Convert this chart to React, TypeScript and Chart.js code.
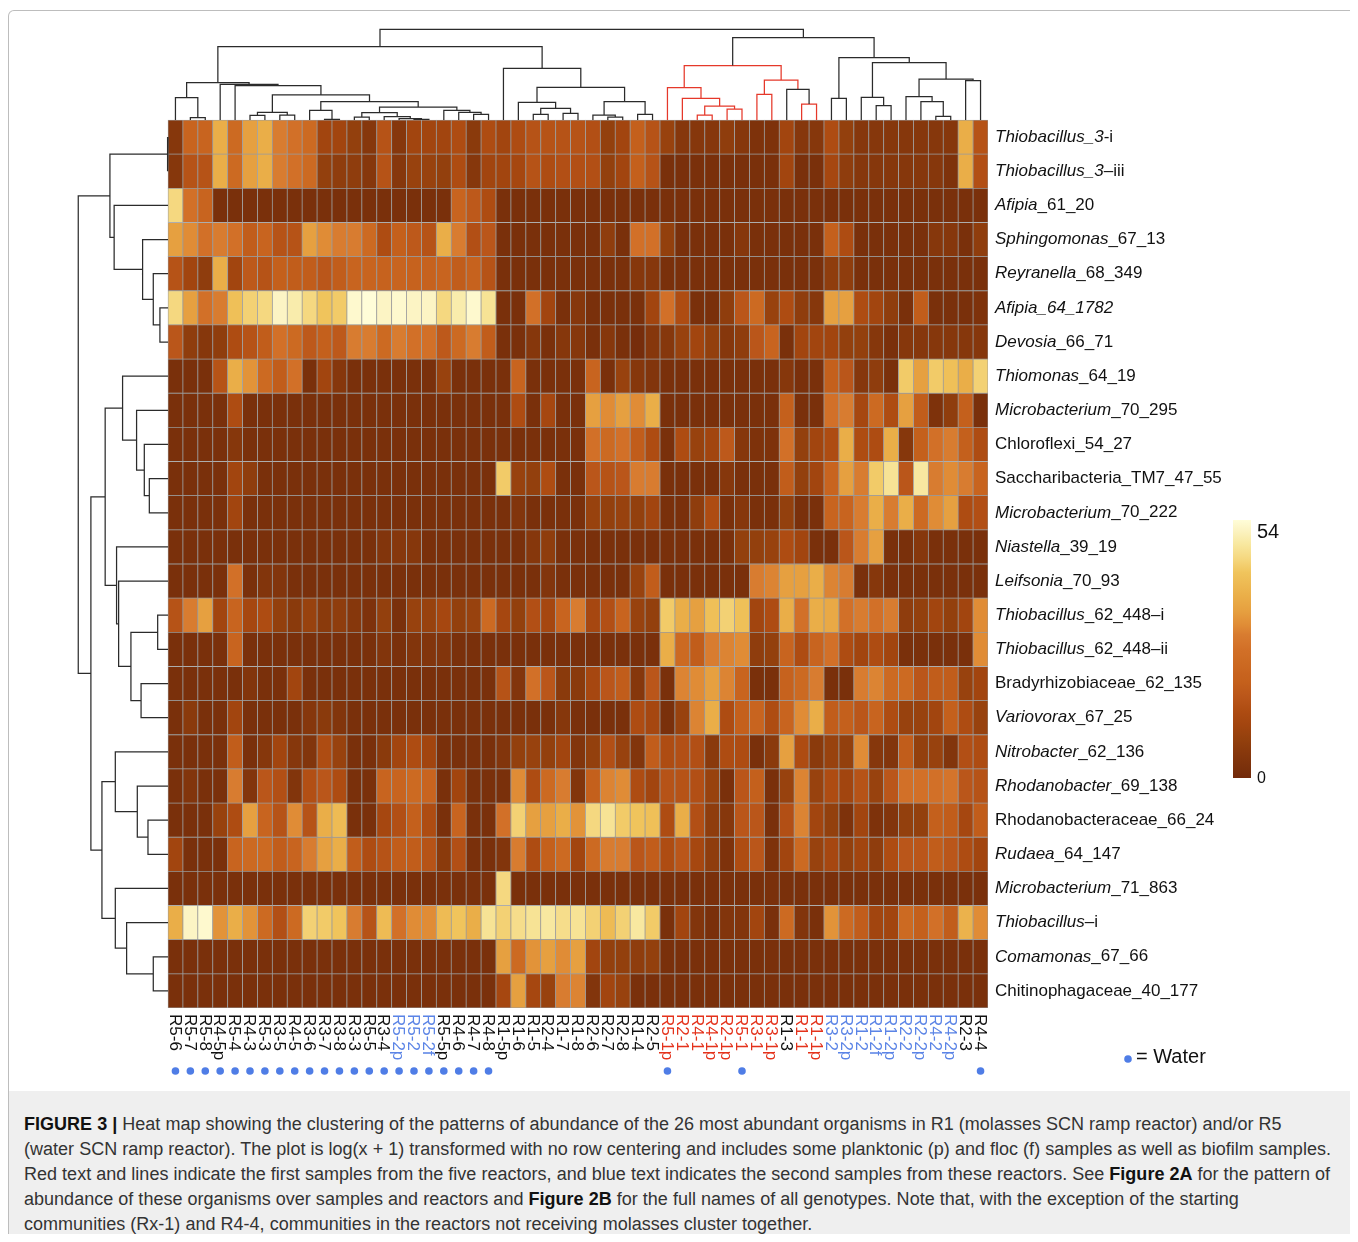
import { useEffect, useRef } from 'react'
import { Chart, registerables } from 'chart.js'

Chart.register(...registerables)

const FONT = '"Liberation Sans", Arial, Helvetica, sans-serif'

// sample order along the columns (as clustered in the figure)
const sampleLabels = [
  'R5-6', 'R5-7', 'R5-8', 'R4-5p', 'R5-4', 'R4-3', 'R5-3', 'R3-5', 'R4-5', 'R3-6',
  'R3-7', 'R3-8', 'R3-3', 'R5-5', 'R3-4', 'R5-2p', 'R5-2', 'R5-2f', 'R5-5p', 'R4-6',
  'R4-7', 'R4-8', 'R1-5p', 'R1-6', 'R1-5', 'R2-4', 'R1-7', 'R1-8', 'R2-6', 'R2-7',
  'R2-8', 'R1-4', 'R2-5', 'R5-1p', 'R2-1', 'R4-1', 'R4-1p', 'R2-1p', 'R5-1', 'R3-1',
  'R3-1p', 'R1-3', 'R1-1', 'R1-1p', 'R3-2', 'R3-2p', 'R1-2', 'R1-2f', 'R1-2p', 'R2-2',
  'R2-2p', 'R4-2', 'R4-2p', 'R2-3', 'R4-4',
]

// first samples from the reactors (red) and second samples (blue)
const firstSamples = ['R5-1p', 'R2-1', 'R4-1', 'R4-1p', 'R2-1p', 'R5-1', 'R3-1', 'R3-1p', 'R1-1', 'R1-1p']
const secondSamples = ['R5-2p', 'R5-2', 'R5-2f', 'R3-2', 'R3-2p', 'R1-2', 'R1-2f', 'R1-2p', 'R2-2', 'R2-2p', 'R4-2', 'R4-2p']

const waterSamples = [
  'R5-6', 'R5-7', 'R5-8', 'R4-5p', 'R5-4', 'R4-3', 'R5-3', 'R3-5', 'R4-5', 'R3-6', 'R3-7',
  'R3-8', 'R3-3', 'R5-5', 'R3-4', 'R5-2p', 'R5-2', 'R5-2f', 'R5-5p', 'R4-6', 'R4-7', 'R4-8',
  'R5-1p', 'R5-1', 'R4-4',
]

// row labels: italic genus part + plain suffix
const taxonGenus = [
  'Thiobacillus_3', 'Thiobacillus_3', 'Afipia', 'Sphingomonas', 'Reyranella', 'Afipia_64_1782',
  'Devosia', 'Thiomonas', 'Microbacterium', '', '', 'Microbacterium', 'Niastella', 'Leifsonia',
  'Thiobacillus', 'Thiobacillus', '', 'Variovorax', 'Nitrobacter', 'Rhodanobacter', '', 'Rudaea',
  'Microbacterium', 'Thiobacillus', 'Comamonas', '',
]
const taxonSuffix = [
  '-i', '–iii', '_61_20', '_67_13', '_68_349', '', '_66_71', '_64_19', '_70_295',
  'Chloroflexi_54_27', 'Saccharibacteria_TM7_47_55', '_70_222', '_39_19', '_70_93',
  '_62_448–i', '_62_448–ii', 'Bradyrhizobiaceae_62_135', '_67_25', '_62_136', '_69_138',
  'Rhodanobacteraceae_66_24', '_64_147', '_71_863', '–i', '_67_66', 'Chitinophagaceae_40_177',
]

// log(x + 1) abundance, one row per organism, one value per sample column
const abundance: number[][] = [
  [5, 22, 22, 38, 24, 35, 38, 30, 27, 24, 11, 11, 8, 5, 16, 5, 11, 11, 11, 14, 6, 14, 11, 14, 16, 16, 16, 16,
    15, 8, 11, 20, 16, 9, 5, 5, 5, 7, 5, 3, 3, 11, 5, 5, 14, 8, 5, 5, 5, 5, 5, 5, 5, 38, 16],
  [5, 16, 16, 38, 24, 35, 38, 30, 27, 24, 8, 7, 7, 5, 16, 5, 9, 9, 8, 14, 5, 11, 11, 12, 16, 14, 15, 15,
    15, 8, 11, 20, 16, 2, 2, 2, 2, 2, 2, 2, 2, 11, 2, 2, 12, 7, 5, 5, 5, 5, 5, 5, 3, 38, 15],
  [46, 27, 22, 2, 2, 2, 2, 2, 2, 2, 2, 2, 2, 2, 2, 2, 2, 2, 2, 22, 18, 14, 2, 2, 2, 2, 2, 2,
    2, 2, 2, 2, 2, 2, 2, 2, 2, 2, 2, 2, 2, 2, 2, 2, 2, 2, 2, 2, 2, 2, 2, 2, 2, 2, 2],
  [35, 32, 27, 30, 27, 19, 22, 16, 16, 35, 32, 30, 30, 24, 14, 20, 18, 16, 38, 30, 15, 17, 2, 2, 2, 2, 2, 2,
    2, 7, 2, 27, 27, 8, 2, 2, 2, 2, 5, 2, 2, 2, 2, 2, 20, 14, 2, 2, 2, 2, 2, 5, 5, 2, 7],
  [16, 11, 7, 38, 11, 18, 16, 20, 19, 19, 17, 19, 22, 22, 21, 22, 21, 21, 22, 19, 21, 16, 2, 2, 2, 2, 2, 2,
    2, 2, 2, 5, 5, 2, 2, 2, 2, 2, 2, 2, 2, 2, 2, 2, 7, 7, 2, 2, 2, 2, 2, 2, 2, 2, 2],
  [46, 35, 27, 30, 42, 45, 46, 52, 50, 46, 43, 44, 53, 54, 52, 53, 52, 52, 46, 50, 53, 48, 2, 2, 27, 11, 2, 5,
    2, 2, 2, 2, 11, 27, 14, 2, 2, 7, 17, 24, 9, 14, 7, 5, 35, 35, 14, 11, 7, 2, 19, 2, 2, 2, 3],
  [17, 7, 5, 7, 14, 16, 19, 27, 24, 18, 20, 18, 30, 30, 24, 30, 27, 27, 18, 24, 30, 19, 2, 2, 5, 2, 5, 5,
    2, 5, 2, 1, 5, 5, 9, 11, 8, 5, 7, 17, 22, 2, 11, 11, 11, 8, 8, 5, 2, 5, 5, 5, 5, 5, 5],
  [2, 2, 2, 16, 38, 33, 24, 19, 27, 2, 11, 5, 2, 2, 2, 2, 2, 2, 9, 2, 2, 2, 2, 22, 2, 2, 2, 2,
    22, 2, 9, 5, 4, 2, 2, 2, 2, 2, 2, 2, 2, 5, 2, 2, 20, 17, 5, 7, 2, 44, 35, 44, 42, 38, 45],
  [2, 2, 2, 2, 14, 2, 2, 2, 2, 2, 2, 2, 2, 2, 2, 2, 2, 2, 2, 2, 2, 2, 2, 14, 2, 12, 2, 2,
    35, 32, 35, 32, 38, 2, 2, 2, 2, 2, 2, 2, 2, 20, 2, 2, 27, 30, 12, 24, 14, 35, 19, 3, 7, 20, 2],
  [2, 2, 2, 2, 5, 2, 2, 2, 2, 2, 2, 2, 2, 2, 2, 2, 2, 2, 2, 2, 2, 2, 2, 2, 2, 2, 2, 2,
    27, 24, 27, 19, 14, 2, 14, 9, 11, 18, 5, 3, 3, 27, 8, 11, 14, 38, 14, 14, 38, 5, 20, 27, 30, 20, 14],
  [2, 2, 2, 2, 11, 7, 2, 2, 2, 2, 2, 2, 2, 2, 2, 2, 2, 2, 2, 2, 2, 2, 44, 9, 8, 14, 2, 2,
    17, 16, 17, 30, 30, 2, 2, 2, 2, 5, 2, 2, 2, 19, 8, 11, 22, 35, 30, 44, 48, 17, 49, 30, 32, 30, 22],
  [2, 2, 2, 2, 11, 2, 2, 2, 2, 2, 2, 2, 2, 2, 2, 2, 2, 2, 2, 2, 2, 2, 2, 4, 2, 2, 2, 2,
    9, 8, 9, 8, 11, 2, 2, 7, 14, 2, 5, 2, 2, 8, 2, 2, 22, 22, 30, 38, 30, 38, 24, 32, 35, 14, 15],
  [2, 2, 2, 2, 2, 2, 2, 2, 2, 2, 2, 2, 2, 2, 4, 5, 5, 2, 2, 2, 2, 2, 2, 2, 5, 7, 2, 2,
    2, 2, 2, 2, 2, 2, 2, 2, 2, 2, 8, 8, 9, 14, 11, 2, 2, 17, 30, 35, 2, 2, 5, 2, 2, 2, 2],
  [2, 2, 2, 2, 27, 2, 4, 4, 2, 2, 2, 2, 2, 2, 2, 2, 2, 2, 2, 2, 2, 2, 2, 2, 2, 4, 2, 2,
    2, 2, 2, 9, 19, 2, 2, 2, 2, 2, 2, 30, 31, 35, 35, 38, 31, 30, 2, 5, 2, 2, 2, 2, 2, 2, 2],
  [16, 30, 35, 11, 22, 12, 14, 8, 6, 9, 6, 7, 5, 3, 8, 2, 9, 9, 12, 8, 9, 24, 12, 8, 15, 12, 22, 30,
    12, 15, 22, 9, 8, 44, 38, 35, 42, 45, 42, 11, 14, 38, 27, 38, 37, 27, 30, 27, 30, 7, 8, 11, 8, 11, 32],
  [2, 2, 2, 2, 22, 2, 2, 2, 2, 2, 2, 2, 2, 2, 4, 2, 4, 4, 4, 2, 2, 2, 2, 2, 2, 2, 2, 2,
    2, 2, 2, 2, 2, 38, 24, 19, 30, 31, 32, 7, 8, 22, 14, 22, 27, 14, 11, 14, 11, 2, 2, 2, 2, 2, 32],
  [2, 2, 2, 2, 2, 4, 2, 2, 11, 2, 2, 2, 2, 2, 2, 2, 2, 2, 2, 2, 2, 2, 16, 4, 27, 17, 6, 6,
    12, 17, 19, 5, 17, 2, 31, 32, 35, 31, 22, 2, 2, 21, 24, 30, 2, 2, 30, 31, 24, 24, 17, 19, 19, 9, 11],
  [2, 6, 2, 2, 11, 2, 2, 2, 2, 5, 6, 4, 2, 2, 2, 2, 2, 2, 2, 2, 2, 2, 2, 2, 2, 2, 5, 2,
    2, 2, 2, 14, 12, 2, 9, 31, 38, 14, 20, 22, 14, 22, 32, 38, 19, 20, 17, 22, 14, 9, 9, 11, 20, 14, 9],
  [2, 2, 2, 2, 19, 2, 5, 11, 5, 4, 14, 9, 2, 2, 6, 11, 14, 11, 2, 2, 2, 2, 4, 8, 9, 8, 11, 4,
    8, 15, 9, 4, 19, 14, 15, 15, 6, 14, 14, 2, 6, 35, 14, 6, 9, 8, 32, 5, 4, 19, 8, 9, 4, 15, 14],
  [2, 4, 2, 2, 30, 4, 17, 15, 4, 15, 17, 14, 2, 2, 22, 22, 24, 22, 2, 11, 2, 2, 2, 32, 14, 24, 30, 4,
    20, 31, 32, 14, 11, 16, 16, 15, 9, 2, 17, 20, 2, 9, 31, 9, 14, 11, 16, 9, 17, 27, 27, 27, 28, 17, 16],
  [2, 2, 2, 9, 14, 35, 22, 16, 32, 16, 38, 41, 2, 2, 12, 15, 20, 14, 2, 22, 2, 2, 27, 45, 35, 35, 38, 33,
    46, 48, 44, 43, 42, 14, 38, 15, 7, 5, 17, 17, 2, 15, 31, 11, 8, 3, 11, 3, 4, 8, 8, 20, 19, 12, 19],
  [11, 2, 2, 2, 22, 24, 24, 19, 22, 30, 35, 38, 19, 14, 16, 19, 19, 16, 6, 15, 2, 2, 4, 30, 14, 20, 24, 11,
    24, 30, 30, 17, 19, 14, 17, 12, 7, 3, 14, 17, 3, 11, 24, 9, 12, 8, 11, 7, 14, 17, 17, 19, 17, 14, 11],
  [2, 2, 2, 2, 2, 2, 2, 2, 2, 2, 2, 2, 2, 2, 2, 2, 2, 2, 2, 2, 2, 2, 46, 2, 2, 2, 2, 2,
    2, 2, 2, 2, 2, 2, 2, 2, 2, 2, 2, 2, 2, 2, 2, 2, 2, 2, 2, 2, 2, 2, 2, 2, 2, 2, 2],
  [38, 52, 53, 33, 38, 33, 24, 15, 24, 45, 44, 43, 30, 16, 41, 27, 32, 32, 41, 43, 38, 48, 45, 47, 48, 49, 47, 48,
    45, 41, 45, 49, 44, 2, 11, 4, 2, 4, 4, 11, 2, 24, 4, 2, 33, 24, 19, 11, 11, 24, 20, 27, 19, 39, 32],
  [2, 2, 2, 2, 2, 2, 2, 2, 2, 2, 2, 2, 2, 2, 2, 2, 2, 2, 2, 2, 2, 2, 35, 24, 33, 35, 32, 35,
    11, 8, 8, 7, 8, 2, 2, 2, 2, 2, 2, 2, 2, 2, 2, 2, 2, 2, 2, 2, 2, 2, 2, 2, 2, 2, 2],
  [2, 2, 2, 2, 2, 2, 2, 2, 2, 2, 2, 2, 2, 2, 2, 2, 2, 2, 2, 2, 2, 2, 12, 35, 12, 9, 30, 31,
    4, 11, 9, 2, 2, 2, 2, 2, 2, 2, 2, 2, 2, 2, 2, 2, 2, 2, 2, 2, 2, 2, 2, 2, 2, 2, 2],
]

const colorbarTicks = [0, 54]

// dendrograms: a leaf is a column/row index, a node is [left, right, height, red?]
// heights are relative to the root (= 1)
type Tree = number | [Tree, Tree, number, number?]

const sampleTree: Tree = [
  [
    [[0, [1, 2, 0.026], 0.246],
      [3, [4, [[[5, 6, 0.051], [7, 8, 0.055], 0.085],
        [[9, [10, 11, 0.007], 0.107],
          [[[12, 13, 0.033], [14, [15, [16, 17, 0.007], 0.015], 0.037], 0.081],
            [18, [19, [20, 21, 0.063], 0.085], 0.107], 0.143], 0.202], 0.276], 0.379], 0.393],
      0.412],
    [22, [[23, [[24, 25, 0.063], [26, 27, 0.074], 0.129], 0.195],
      [[28, [29, 30, 0.033], 0.055], [31, 32, 0.063], 0.202], 0.36], 0.57],
    0.809],
  [
    [[33, [34, [[35, 36, 0.055, 1], [37, 38, 0.121, 1], 0.154, 1], 0.239, 1], 0.357, 1],
      [[39, 40, 0.283, 1], [41, [42, 43, 0.176, 1], 0.338], 0.441, 1], 0.6, 1],
    [[44, 45, 0.239],
      [[46, [47, 48, 0.158], 0.25],
        [[49, [50, [51, 52, 0.04], 0.202], 0.257], [53, 54, 0.434], 0.452], 0.632], 0.688],
    0.908],
  1,
]

const taxonTree: Tree = [
  [[0, 1, 0.007], [2, [3, [4, [5, 6, 0.09], 0.164], 0.283], 0.6], 0.647],
  [
    [[7, [8, [9, [10, 11, 0.208], 0.264], 0.35], 0.506],
      [12, [13, [[14, 15, 0.115], [16, 17, 0.3], 0.413], 0.55], 0.573], 0.7],
    [[18, [19, [20, 21, 0.223], 0.342], 0.587],
      [22, [23, [24, 25, 0.164], 0.461], 0.587], 0.736],
    0.859],
  1,
]

// colour ramp of the figure (value -> colour)
const RAMP: [number, string][] = [
  [0, '#72290a'], [2, '#7a300b'], [5, '#86370c'], [8, '#93400d'], [11, '#a2450f'],
  [14, '#ae4c12'], [17, '#ba561a'], [20, '#c4601c'], [22, '#c8641f'], [24, '#cc6a22'],
  [27, '#d27028'], [30, '#d87c30'], [32, '#e08c36'], [35, '#e6a040'], [38, '#eaae48'],
  [43, '#f0c45c'], [46, '#f5d880'], [49, '#f8e8a0'], [52, '#fcf4c4'], [54, '#fffdd8'],
]

const TOP_SPAN = 2.655 // dendrogram root height in row units
const LEFT_SPAN = 6.02 // dendrogram root height in column units

function hexToRgb(h: string) {
  return [1, 3, 5].map((i) => parseInt(h.slice(i, i + 2), 16))
}

function cellColor(v: number) {
  for (let k = 1; k < RAMP.length; k++) {
    const [v1, c1] = RAMP[k]
    if (v <= v1) {
      const [v0, c0] = RAMP[k - 1]
      const t = (v - v0) / (v1 - v0)
      const a = hexToRgb(c0)
      const b = hexToRgb(c1)
      const m = a.map((x, i) => Math.round(x + (b[i] - x) * t))
      return `rgb(${m[0]},${m[1]},${m[2]})`
    }
  }
  return RAMP[RAMP.length - 1][1]
}

type Seg = ([number, number] | null)[]

function walk(node: Tree, black: Seg, red: Seg): { pos: number; h: number } {
  if (typeof node === 'number') return { pos: node + 0.5, h: 0 }
  const a = walk(node[0], black, red)
  const b = walk(node[1], black, red)
  const h = node[2]
  const list = node[3] ? red : black
  list.push([a.pos, a.h], [a.pos, h], [b.pos, h], [b.pos, b.h], null)
  return { pos: (a.pos + b.pos) / 2, h }
}

const figureText = {
  id: 'figureText',
  afterDraw(chart: any) {
    const { ctx } = chart
    const xs = chart.scales.x
    const ys = chart.scales.y
    const right = xs.getPixelForValue(sampleLabels.length)
    const bottom = ys.getPixelForValue(taxonGenus.length)
    ctx.save()
    ctx.textBaseline = 'middle'
    ctx.textAlign = 'left'

    // row labels
    taxonGenus.forEach((g, i) => {
      const y = ys.getPixelForValue(i + 0.5)
      let x = right + 7
      ctx.fillStyle = '#111'
      if (g) {
        ctx.font = `italic 17px ${FONT}`
        ctx.fillText(g, x, y)
        x += ctx.measureText(g).width
      }
      ctx.font = `17px ${FONT}`
      ctx.fillText(taxonSuffix[i], x, y)
    })

    // column labels, read top to bottom
    ctx.font = `17px ${FONT}`
    sampleLabels.forEach((s, j) => {
      const x = xs.getPixelForValue(j + 0.5)
      ctx.save()
      ctx.translate(x, bottom + 6)
      ctx.rotate(Math.PI / 2)
      ctx.fillStyle = firstSamples.includes(s) ? '#e4321b' : secondSamples.includes(s) ? '#5b84e6' : '#111'
      ctx.fillText(s, 0, 1)
      ctx.restore()
      if (waterSamples.includes(s)) {
        ctx.fillStyle = '#4f7de6'
        ctx.beginPath()
        ctx.arc(x, bottom + 63, 3.8, 0, Math.PI * 2)
        ctx.fill()
      }
    })

    // colour key
    const cbLeft = right + 245
    const cbTop = bottom - 488
    const cbBottom = bottom - 230
    const grad = ctx.createLinearGradient(0, cbBottom, 0, cbTop)
    RAMP.forEach(([v, c]) => grad.addColorStop(v / colorbarTicks[1], c))
    ctx.fillStyle = grad
    ctx.fillRect(cbLeft, cbTop, 18, cbBottom - cbTop)
    ctx.fillStyle = '#111'
    ctx.font = `20px ${FONT}`
    ctx.fillText(String(colorbarTicks[1]), cbLeft + 24, cbTop + 12)
    ctx.font = `16px ${FONT}`
    ctx.fillText(String(colorbarTicks[0]), cbLeft + 24, cbBottom + 1)

    // water key
    ctx.fillStyle = '#4f7de6'
    ctx.beginPath()
    ctx.arc(right + 140, bottom + 51, 3.8, 0, Math.PI * 2)
    ctx.fill()
    ctx.fillStyle = '#111'
    ctx.font = `20px ${FONT}`
    ctx.fillText('= Water', right + 148, bottom + 49)
    ctx.restore()
  },
}

export default function App() {
  const canvasRef = useRef<HTMLCanvasElement>(null)

  useEffect(() => {
    if (!canvasRef.current) return
    const cells = abundance.flatMap((row, i) =>
      row.map((v, j) => ({ x: [j, j + 1], y: i + 0.5, v }))
    )

    const topBlack: Seg = []
    const topRed: Seg = []
    walk(sampleTree, topBlack, topRed)
    const leftBlack: Seg = []
    const leftRed: Seg = []
    walk(taxonTree, leftBlack, leftRed)

    const toTop = (s: Seg) =>
      s.map((p) => (p ? { x: p[0], y: -p[1] * TOP_SPAN } : { x: null, y: null }))
    const toLeft = (s: Seg) =>
      s.map((p) => (p ? { x: -p[1] * LEFT_SPAN, y: p[0] } : { x: null, y: null }))

    const lineStyle = {
      type: 'line' as const,
      pointRadius: 0,
      borderWidth: 1.25,
      fill: false,
      spanGaps: false,
      tension: 0,
      order: 1,
    }

    const chart = new Chart(canvasRef.current, {
      type: 'bar',
      data: {
        datasets: [
          {
            type: 'bar',
            indexAxis: 'y',
            data: cells as any,
            backgroundColor: cells.map((c) => cellColor(c.v)),
            borderColor: '#9a9a9a',
            borderWidth: 0.75,
            borderSkipped: false,
            barPercentage: 1,
            categoryPercentage: 1,
            order: 2,
          } as any,
          { ...lineStyle, data: toTop(topBlack), borderColor: '#2b2b2b' } as any,
          { ...lineStyle, data: toTop(topRed), borderColor: '#e5382a' } as any,
          { ...lineStyle, data: toLeft(leftBlack), borderColor: '#2b2b2b' } as any,
        ],
      },
      options: {
        animation: false,
        responsive: true,
        maintainAspectRatio: false,
        events: [],
        layout: { padding: { left: 68.05, right: 367, top: 6.54, bottom: 83 } },
        plugins: {
          legend: { display: false },
          tooltip: { enabled: false },
        },
        scales: {
          x: { type: 'linear', min: -6.1, max: 55, offset: false, display: false, grid: { offset: false } },
          y: {
            type: 'linear', min: -3, max: 26, reverse: true, offset: false, display: false,
            grid: { offset: false }, ticks: { stepSize: 1 },
          },
        },
      },
      plugins: [figureText],
    })

    return () => {
      chart.destroy()
    }
  }, [])

  return (
    <div style={{ paddingTop: 2, marginBottom: -8 }}>
      <div
        style={{
          width: 1346,
          height: 1231,
          border: '1px solid #bdbdbd',
          borderBottom: 'none',
          borderRadius: '6px 6px 0 0',
          overflow: 'hidden',
        }}
      >
        <div style={{ position: 'relative', width: 1346, height: 1080 }}>
          <canvas ref={canvasRef}></canvas>
        </div>
        <div
          style={{
            height: 151,
            boxSizing: 'border-box',
            background: '#efefef',
            padding: '21px 4px 0 15px',
            fontFamily: FONT,
            fontSize: 18,
            letterSpacing: '0.02px',
            lineHeight: '25px',
            color: '#333',
            whiteSpace: 'nowrap',
          }}
        >
          <b style={{ color: '#111' }}>FIGURE 3 |</b> Heat map showing the clustering of the patterns of abundance of the 26 most abundant organisms in R1 (molasses SCN ramp reactor) and/or R5
          <br />
          (water SCN ramp reactor). The plot is log(x + 1) transformed with no row centering and includes some planktonic (p) and floc (f) samples as well as biofilm samples.
          <br />
          Red text and lines indicate the first samples from the five reactors, and blue text indicates the second samples from these reactors. See <b style={{ color: '#111' }}>Figure 2A</b> for the pattern of
          <br />
          abundance of these organisms over samples and reactors and <b style={{ color: '#111' }}>Figure 2B</b> for the full names of all genotypes. Note that, with the exception of the starting
          <br />
          communities (Rx-1) and R4-4, communities in the reactors not receiving molasses cluster together.
        </div>
      </div>
    </div>
  )
}
